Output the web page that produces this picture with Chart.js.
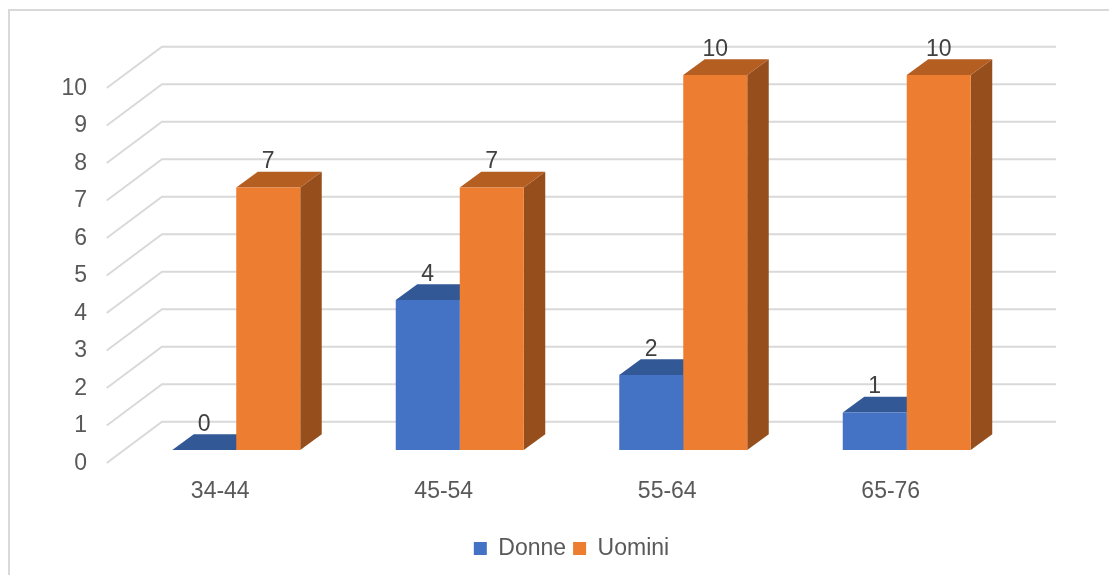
<!DOCTYPE html>
<html>
<head>
<meta charset="utf-8">
<title>Donne / Uomini per fascia di età</title>
<script src="https://cdn.jsdelivr.net/npm/chart.js@4/dist/chart.umd.min.js"></script>
<style>
	body { margin: 0; background: #ffffff; }
	#frame { position: absolute; left: 8px; top: 9px; width: 1200px; height: 700px; border: 2px solid #d9d9d9; }
	#wrap { position: absolute; left: 0; top: 0; width: 1109px; height: 575px; }
</style>
</head>
<body>
<div id="frame"></div>
<div id="wrap"><canvas id="ageChart"></canvas></div>
<script>
//	Chart data
var ageGroups = ['34-44', '45-54', '55-64', '65-76'];
var donneValues = [0, 4, 2, 1];
var uominiValues = [7, 7, 10, 10];
var valueTicks = [0, 1, 2, 3, 4, 5, 6, 7, 8, 9, 10];

var FONT = '"Liberation Sans", Arial, sans-serif';
var FONT_SIZE = 23;
var TEXT_COLOR = '#595959';

//	Offsets of the fake 3D look (bar depth, back wall, front of floor)
var DEPTH_X = 21.5, DEPTH_Y = 15.7;
var WALL_X = 37.5, WALL_Y = 28.3;
var FLOOR_X = 17.8, FLOOR_Y = 13;

/**
 *	Draws the walls, the gridlines and the top and side faces of the bars
 *	before Chart.js paints the front faces
 */
var depthPlugin = {
	id: 'depth',
	beforeDatasetsDraw: function (chart) {
		var ctx = chart.ctx;
		var yScale = chart.scales.y;
		var area = chart.chartArea;
		ctx.save();
		ctx.strokeStyle = '#d9d9d9';
		ctx.lineWidth = 2;
		valueTicks.forEach(function (v) {
			var y = yScale.getPixelForValue(v);
			ctx.beginPath();
			ctx.moveTo(area.left - FLOOR_X, y + FLOOR_Y);
			ctx.lineTo(area.left + WALL_X, y - WALL_Y);
			ctx.lineTo(area.right + WALL_X, y - WALL_Y);
			ctx.stroke();
		});

		chart.data.datasets.forEach(function (ds, i) {
			var meta = chart.getDatasetMeta(i);
			meta.data.forEach(function (bar) {
				var p = bar.getProps(['x', 'y', 'base', 'width'], true);
				var l = p.x - p.width / 2;
				var r = p.x + p.width / 2;
				//	side face
				ctx.fillStyle = ds.sideColor;
				ctx.beginPath();
				ctx.moveTo(r, p.base);
				ctx.lineTo(r + DEPTH_X, p.base - DEPTH_Y);
				ctx.lineTo(r + DEPTH_X, p.y - DEPTH_Y);
				ctx.lineTo(r, p.y);
				ctx.closePath();
				ctx.fill();
				//	top face
				ctx.fillStyle = ds.topColor;
				ctx.beginPath();
				ctx.moveTo(l, p.y);
				ctx.lineTo(l + DEPTH_X, p.y - DEPTH_Y);
				ctx.lineTo(r + DEPTH_X, p.y - DEPTH_Y);
				ctx.lineTo(r, p.y);
				ctx.closePath();
				ctx.fill();
			});
		});
		ctx.restore();
	},
	afterDatasetsDraw: function (chart) {
		//	Value labels above each bar
		var ctx = chart.ctx;
		ctx.save();
		ctx.fillStyle = '#404040';
		ctx.font = FONT_SIZE + 'px ' + FONT;
		ctx.textAlign = 'center';
		ctx.textBaseline = 'middle';
		chart.data.datasets.forEach(function (ds, i) {
			chart.getDatasetMeta(i).data.forEach(function (bar, j) {
				var p = bar.getProps(['x', 'y'], true);
				ctx.fillText(String(ds.data[j]), p.x, p.y - 25.5);
			});
		});
		ctx.restore();
	}
};

setTimeout(function main() {
	var ctx = document.getElementById('ageChart');
	var ageChart = new Chart(ctx, {
		type: 'bar',
		data: {
			labels: ageGroups,
			datasets: [{
					label: 'Donne',
					data: donneValues,
					backgroundColor: '#4472c4',
					topColor: '#335896',
					sideColor: '#2b4b85',
					categoryPercentage: 0.5727,
					barPercentage: 1
				},
				{
					label: 'Uomini',
					data: uominiValues,
					backgroundColor: '#ed7d31',
					topColor: '#b55e22',
					sideColor: '#954e1c',
					categoryPercentage: 0.5727,
					barPercentage: 1
				}
			]
		},
		options: {
			responsive: true,
			maintainAspectRatio: false,
			animation: false,
			layout: {
				padding: { left: 0, right: 90.5, top: 75, bottom: 5 }
			},
			scales: {
				x: {
					grid: { display: false, drawTicks: false },
					border: { display: false },
					ticks: {
						color: TEXT_COLOR,
						font: { family: FONT, size: FONT_SIZE },
						padding: 28,
						labelOffset: -16
					},
					afterFit: function (scale) {
						scale.height = 80;
					}
				},
				y: {
					min: 0,
					max: 10,
					grid: { display: false, drawTicks: false },
					border: { display: false },
					ticks: {
						color: TEXT_COLOR,
						font: { family: FONT, size: FONT_SIZE },
						padding: 37.5,
						labelOffset: 13.5
					},
					afterBuildTicks: function (scale) {
						scale.ticks = valueTicks.map(function (v) {
							return { value: v };
						});
					},
					afterFit: function (scale) {
						scale.width = 124.5;
					}
				}
			},
			plugins: {
				legend: {
					position: 'bottom',
					fullSize: false,
					labels: {
						color: TEXT_COLOR,
						font: { family: FONT, size: FONT_SIZE },
						boxWidth: 13,
						boxHeight: 13,
						padding: 7
					}
				},
				tooltip: { enabled: false }
			}
		},
		plugins: [depthPlugin]
	});
}, 10);
</script>
</body>
</html>
